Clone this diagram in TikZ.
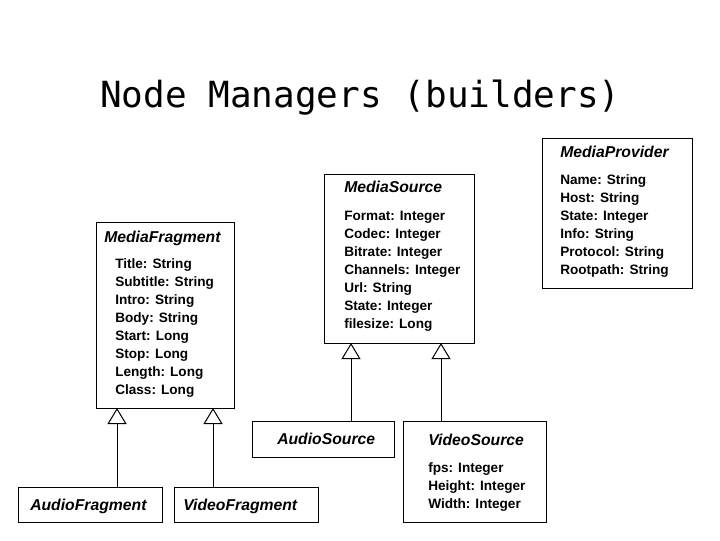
\documentclass[tikz,border=0pt]{standalone}
\usepackage{fontspec}
\setmainfont{Liberation Sans}
\newfontfamily\titlefont{DejaVu Sans Mono}
\usetikzlibrary{arrows.meta,fit}
\tikzset{
  box/.style={draw=black, line width=0.75pt, inner sep=0pt},
  cls/.style={anchor=base west, inner sep=0pt, font=\bfseries\itshape\fontsize{11.8}{14}\selectfont},
  attr/.style={anchor=base west, inner sep=0pt, font=\bfseries\fontsize{10.2}{12}\selectfont},
  inh/.style={line width=0.75pt, -{Triangle[open, width=14.25pt, length=12pt, line width=0.75pt]}},
}
\begin{document}
\begin{tikzpicture}[x=0.75pt, y=-0.75pt]
\useasboundingbox (0,0) rectangle (720,540);
% title
\node[anchor=base west, inner sep=0pt, font=\titlefont\fontsize{27}{30}\selectfont] (title) at (100,107) {Node Managers (builders)};
% boxes
\coordinate (mfNW) at (96,222);   \coordinate (mfSE) at (234,408);
\coordinate (msNW) at (324,174);  \coordinate (msSE) at (474,343);
\coordinate (mpNW) at (542,138);  \coordinate (mpSE) at (692,288);
\coordinate (asNW) at (252,421);  \coordinate (asSE) at (394,457);
\coordinate (vsNW) at (403,421);  \coordinate (vsSE) at (546,522);
\coordinate (afNW) at (18,487);   \coordinate (afSE) at (162,522);
\coordinate (vfNW) at (174,487);  \coordinate (vfSE) at (318,522);
\node[box, fit=(mfNW)(mfSE)] (mf) {};
\node[box, fit=(msNW)(msSE)] (ms) {};
\node[box, fit=(mpNW)(mpSE)] (mp) {};
\node[box, fit=(asNW)(asSE)] (as) {};
\node[box, fit=(vsNW)(vsSE)] (vs) {};
\node[box, fit=(afNW)(afSE)] (af) {};
\node[box, fit=(vfNW)(vfSE)] (vf) {};
% class names
\node[cls] (mft) at (104,242) {MediaFragment};
\node[cls] (mst) at (344,192.5) {MediaSource};
\node[cls] (mpt) at (560,157.5) {MediaProvider};
\node[cls] (ast) at (277,444.5) {AudioSource};
\node[cls] (vst) at (428,445) {VideoSource};
\node[cls] (aft) at (30,510) {AudioFragment};
\node[cls] (vft) at (183,510) {VideoFragment};
% attributes
\foreach \t [count=\i from 0] in {Title: String, Subtitle: String, Intro: String, Body: String, Start: Long, Stop: Long, Length: Long, Class: Long}
  \node[attr] (mfa\i) at (115,{268.5+18*\i}) {\t};
\foreach \t [count=\i from 0] in {Format: Integer, Codec: Integer, Bitrate: Integer, Channels: Integer, Url: String, State: Integer, filesize: Long}
  \node[attr] (msa\i) at (344,{220.5+18*\i}) {\t};
\foreach \t [count=\i from 0] in {Name: String, Host: String, State: Integer, Info: String, Protocol: String, Rootpath: String}
  \node[attr] (mpa\i) at (560,{184.5+18*\i}) {\t};
\foreach \t [count=\i from 0] in {fps: Integer, Height: Integer, Width: Integer}
  \node[attr] (vsa\i) at (428,{472.5+18*\i}) {\t};
% inheritance connectors
\coordinate (mf1) at (117,408);
\coordinate (mf2) at (213,408);
\coordinate (ms1) at (351,343);
\coordinate (ms2) at (441,343);
\draw[inh] (af.north -| mf1) -- (mf1);
\draw[inh] (vf.north -| mf2) -- (mf2);
\draw[inh] (as.north -| ms1) -- (ms1);
\draw[inh] (vs.north -| ms2) -- (ms2);
\end{tikzpicture}
\end{document}
